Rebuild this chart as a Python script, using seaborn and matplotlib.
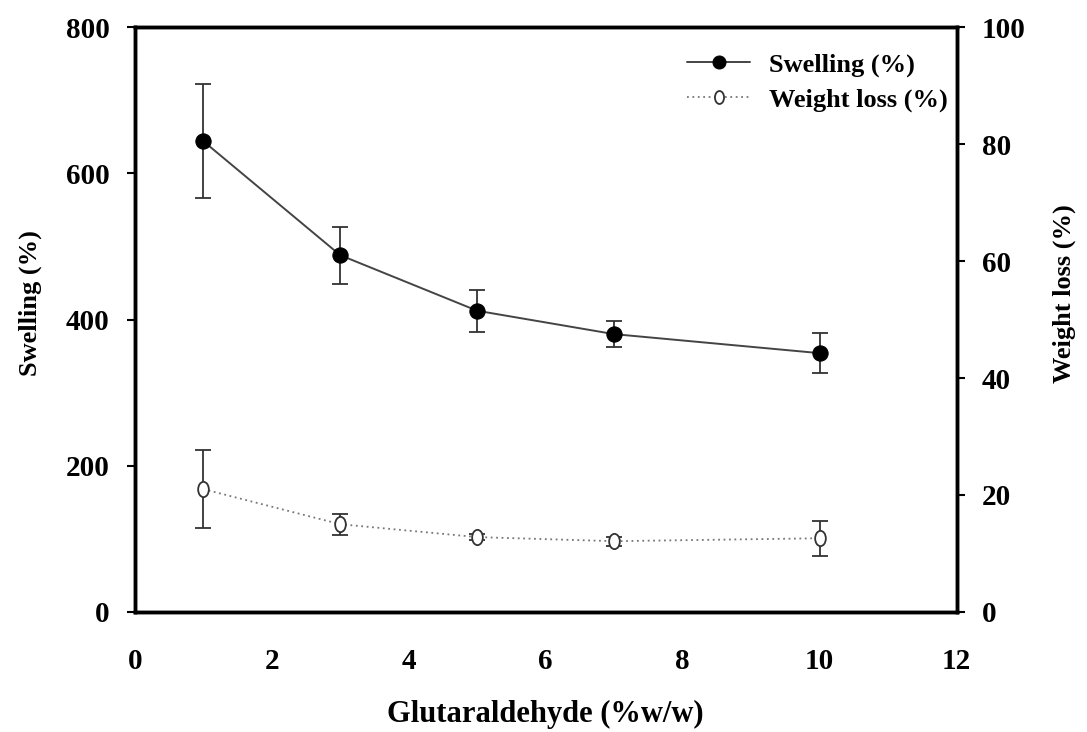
import numpy as np
import pandas as pd
import seaborn as sb
import matplotlib
matplotlib.use("Agg")
import matplotlib.pyplot as plt
from matplotlib.path import Path
from matplotlib.transforms import Affine2D

glutaraldehyde = [1, 3, 5, 7, 10]
swelling = [644, 488, 412, 380, 354]
swelling_err = [78, 39, 29, 18, 27]
weight_loss = [21.0, 15.0, 12.8, 12.1, 12.6]
weight_loss_err = [6.7, 1.8, 0.5, 0.8, 3.0]

df = pd.DataFrame({"glutaraldehyde": glutaraldehyde,
                   "swelling": swelling,
                   "weight_loss": weight_loss})

sb.set_style("white")
plt.rcParams["font.family"] = ["Liberation Serif", "DejaVu Serif"]
plt.rcParams["font.weight"] = "bold"
plt.rcParams["text.color"] = "black"
plt.rcParams["axes.labelcolor"] = "black"

# tall open ellipse like the scanned original
ellipse = Path.unit_circle().transformed(Affine2D().scale(0.7, 1.0))

fig = plt.figure(figsize=(10.87, 7.32), dpi=100)
ax = fig.add_axes([0.124, 0.164, 0.756, 0.799])
ax2 = ax.twinx()

ax.errorbar(df["glutaraldehyde"], df["swelling"], yerr=swelling_err, fmt="none",
            ecolor="#333333", elinewidth=1.3, capsize=6, capthick=1.3, zorder=2)
sb.lineplot(data=df, x="glutaraldehyde", y="swelling", ax=ax, color="#444444",
            linewidth=1.4, marker="o", markersize=11, markerfacecolor="black",
            markeredgecolor="black", label="Swelling (%)", legend=False, zorder=3)

ax2.errorbar(df["glutaraldehyde"], df["weight_loss"], yerr=weight_loss_err, fmt="none",
             ecolor="#333333", elinewidth=1.3, capsize=6, capthick=1.3, zorder=2)
sb.lineplot(data=df, x="glutaraldehyde", y="weight_loss", ax=ax2, color="#777777",
            linewidth=1.3, linestyle=(0, (1, 2)), marker=ellipse, markersize=11,
            markerfacecolor="white", markeredgecolor="#333333", markeredgewidth=1.3,
            label="Weight loss (%)", legend=False, zorder=3)

ax.set_xlim(0, 12)
ax.set_ylim(0, 800)
ax2.set_ylim(0, 100)
ax.set_xticks(np.arange(0, 13, 2))
ax.set_yticks(np.arange(0, 801, 200))
ax2.set_yticks(np.arange(0, 101, 20))

for a in (ax, ax2):
    for s in a.spines.values():
        s.set_linewidth(2.5)
        s.set_color("black")
    a.tick_params(direction="out", length=6, width=1.5, labelsize=21, colors="black")
ax.tick_params(axis="x", pad=20)
ax.tick_params(axis="y", pad=12)
ax2.tick_params(axis="y", pad=12)

ax.set_xlabel("Glutaraldehyde (%w/w)", fontsize=22, fontweight="bold")
ax.set_ylabel("Swelling (%)", fontsize=19, fontweight="bold")
ax2.set_ylabel("Weight loss (%)", fontsize=19, fontweight="bold")
ax.xaxis.set_label_coords(0.5, -0.150)
ax.yaxis.set_label_coords(-0.113, 0.528)
ax2.yaxis.set_label_coords(1.117, 0.544)

h1, l1 = ax.get_legend_handles_labels()
h2, l2 = ax2.get_legend_handles_labels()
ax2.legend(h1 + h2, l1 + l2, loc="upper right", frameon=False,
           bbox_to_anchor=(1.005, 0.978),
           handlelength=2.4, markerscale=0.85, borderaxespad=0.1,
           handletextpad=0.7, labelspacing=0.42,
           prop={"weight": "bold", "size": 19})

plt.savefig("out.png", dpi=100)
